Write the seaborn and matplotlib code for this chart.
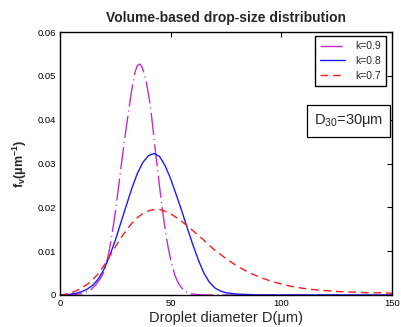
import numpy as np
import pandas as pd
import seaborn as sns
import matplotlib
matplotlib.use("Agg")
import matplotlib.pyplot as plt

# --- values ---
d_09 = [0, 5, 10, 14, 16, 18, 19, 20, 21, 22, 23, 24, 25, 26, 27, 28, 29, 30, 31, 32,
        33, 34, 35, 36, 37, 38, 39, 40, 41, 42, 43, 44, 45, 46, 47, 48, 49, 50, 51,
        52, 53, 54, 55, 56, 57, 58, 60, 62, 65, 70, 80, 90, 100, 110, 120, 130, 140, 150]
f_09 = [0, 0, 0.0003, 0.0012, 0.0022, 0.0036, 0.0044, 0.0055, 0.0073, 0.0095, 0.0124,
        0.0155, 0.0189, 0.0228, 0.0268, 0.0309, 0.0348, 0.0384, 0.0420, 0.0455, 0.0486,
        0.0510, 0.0524, 0.0527, 0.0521, 0.0506, 0.0485, 0.0458, 0.0424, 0.0380, 0.0334,
        0.0290, 0.0246, 0.0205, 0.0168, 0.0133, 0.0105, 0.0081, 0.0061, 0.0044, 0.0032,
        0.0023, 0.0016, 0.0010, 0.0007, 0.0004, 0.0002, 0.0001, 0, 0, 0, 0, 0, 0, 0, 0,
        0, 0]

d_08 = [0, 2.5, 5, 7.5, 10, 12.5, 15, 17.5, 20, 22.5, 25, 27.5, 30, 32.5, 35, 37.5, 40,
        42.5, 45, 47.5, 50, 52.5, 55, 57.5, 60, 62.5, 65, 67.5, 70, 72.5, 75, 80, 85,
        90, 100, 110, 120, 130, 140, 150]
f_08 = [0, 0, 0.0002, 0.0004, 0.0008, 0.0014, 0.0023, 0.0038, 0.0060, 0.0090, 0.0125,
        0.0165, 0.0205, 0.0244, 0.0278, 0.0303, 0.0318, 0.0323, 0.0316, 0.0295, 0.0265,
        0.0229, 0.0192, 0.0153, 0.0115, 0.0080, 0.0050, 0.0029, 0.0016, 0.0009, 0.0005,
        0.0002, 0.0001, 0, 0, 0, 0, 0, 0, 0]

d_07 = [0, 2.5, 5, 7.5, 10, 12.5, 15, 17.5, 20, 22.5, 25, 27.5, 30, 32.5, 35, 37.5, 40,
        42.5, 45, 47.5, 50, 52.5, 55, 57.5, 60, 62.5, 65, 67.5, 70, 75, 80, 85, 90,
        95, 100, 105, 110, 115, 120, 125, 130, 135, 140, 145, 150]
f_07 = [0, 0.0002, 0.0005, 0.0010, 0.0017, 0.0025, 0.0036, 0.0050, 0.0068, 0.0089,
        0.0110, 0.0130, 0.0148, 0.0164, 0.0177, 0.0186, 0.0192, 0.0195, 0.0195, 0.0191,
        0.0185, 0.0177, 0.0168, 0.0158, 0.0147, 0.0136, 0.0125, 0.0113, 0.0102, 0.0083,
        0.0066, 0.0052, 0.0041, 0.0032, 0.0025, 0.0019, 0.0015, 0.0012, 0.0010, 0.0008,
        0.0007, 0.0006, 0.0005, 0.0005, 0.0004]

x_ticks = [0, 50, 100, 150]
y_ticks = [0, 0.01, 0.02, 0.03, 0.04, 0.05, 0.06]
y_tick_labels = ["0", "0.01", "0.02", "0.03", "0.04", "0.05", "0.06"]

sns.set_style("white")
plt.rcParams["font.family"] = ["Liberation Sans", "DejaVu Sans"]
plt.rcParams["mathtext.fontset"] = "custom"
plt.rcParams["mathtext.rm"] = "Liberation Sans"
plt.rcParams["mathtext.it"] = "Liberation Sans:italic"
plt.rcParams["mathtext.bf"] = "Liberation Sans:bold"

fig = plt.figure(figsize=(4.01, 3.27), dpi=100)
ax = fig.add_axes([0.1496, 0.0979, 0.828, 0.804])

sns.lineplot(x=d_09, y=f_09, ax=ax, color="#c82cc8", lw=1.0, label="k=0.9")
ax.lines[-1].set_dashes([16, 3, 0.8, 3])
sns.lineplot(x=d_08, y=f_08, ax=ax, color="#1a1aff", lw=1.0, label="k=0.8")
sns.lineplot(x=d_07, y=f_07, ax=ax, color="#ff1a1a", lw=1.0, label="k=0.7")
ax.lines[-1].set_dashes([5.5, 3.5])

ax.set_xlim(0, 150)
ax.set_ylim(0, 0.06)
ax.set_xticks(x_ticks)
ax.set_yticks(y_ticks)
ax.set_yticklabels(y_tick_labels)
ax.tick_params(direction="in", length=3.5, width=0.8, top=True, right=True,
               labelsize=6.8, colors="black", pad=3)
for s in ax.spines.values():
    s.set_color("black")
    s.set_linewidth(1.0)

ax.set_title("Volume-based drop-size distribution", fontsize=10, fontweight="bold", pad=7)
ax.set_xlabel("Droplet diameter D(μm)", fontsize=10.5, labelpad=2)
ax.set_ylabel(r"f$_\mathbf{v}$(μm$^\mathbf{-1}$)", fontsize=9, fontweight="bold", labelpad=6)

leg = ax.legend(loc="upper right", bbox_to_anchor=(0.983, 0.985), borderaxespad=0,
                fontsize=7.5, handlelength=2.4, frameon=True, fancybox=False,
                framealpha=1, edgecolor="black", borderpad=0.5, labelspacing=0.45,
                handletextpad=1.0)
leg.get_frame().set_linewidth(1.0)

ax.text(0.869, 0.662, r"D$_{30}$=30μm", transform=ax.transAxes, fontsize=10.5,
        ha="center", va="center",
        bbox=dict(boxstyle="square,pad=0.5", facecolor="white", edgecolor="black", lw=0.9))

fig.savefig("out.png", dpi=100)
